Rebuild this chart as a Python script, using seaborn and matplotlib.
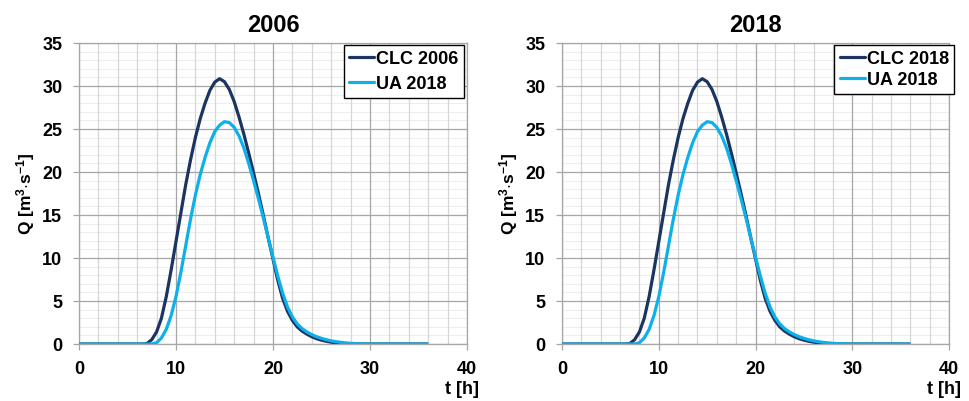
import numpy as np
import pandas as pd
import matplotlib
matplotlib.use("Agg")
import matplotlib.pyplot as plt
from matplotlib.ticker import MultipleLocator
import seaborn as sns

# ---- data, half-hour steps 0 .. 36 h ----
t_hours = [0.0, 0.5, 1.0, 1.5, 2.0, 2.5, 3.0, 3.5, 4.0, 4.5, 5.0, 5.5, 6.0, 6.5,
           7.0, 7.5, 8.0, 8.5, 9.0, 9.5, 10.0, 10.5, 11.0, 11.5, 12.0, 12.5,
           13.0, 13.5, 14.0, 14.5, 15.0, 15.5, 16.0, 16.5, 17.0, 17.5, 18.0,
           18.5, 19.0, 19.5, 20.0, 20.5, 21.0, 21.5, 22.0, 22.5, 23.0, 23.5,
           24.0, 24.5, 25.0, 25.5, 26.0, 26.5, 27.0, 27.5, 28.0, 28.5, 29.0,
           29.5, 30.0, 30.5, 31.0, 31.5, 32.0, 32.5, 33.0, 33.5, 34.0, 34.5,
           35.0, 35.5, 36.0]
q_clc = [0, 0, 0, 0, 0, 0, 0, 0, 0, 0, 0, 0, 0, 0,
         0.05, 0.5, 1.4, 3.0, 5.5, 8.6, 11.9, 15.2, 18.5, 21.4, 24.0, 26.2,
         28.0, 29.5, 30.45, 30.85, 30.5, 29.6, 28.2, 26.4, 24.4, 22.2, 19.9,
         17.5, 15.0, 12.4, 9.9, 7.4, 5.3, 3.8, 2.75, 2.0, 1.5, 1.15,
         0.85, 0.62, 0.45, 0.32, 0.22, 0.14, 0.08, 0.04, 0.02, 0.01, 0,
         0, 0, 0, 0, 0, 0, 0, 0, 0, 0, 0,
         0, 0, 0]
q_ua = [0, 0, 0, 0, 0, 0, 0, 0, 0, 0, 0, 0, 0, 0,
        0.0, 0.0, 0.15, 0.7, 1.7, 3.3, 5.5, 8.3, 11.4, 14.5, 17.3, 19.7,
        21.7, 23.4, 24.7, 25.45, 25.85, 25.75, 25.2, 24.2, 22.8, 21.0, 19.0,
        16.9, 14.7, 12.4, 10.1, 7.9, 5.9, 4.3, 3.15, 2.35, 1.8, 1.4,
        1.1, 0.85, 0.66, 0.5, 0.37, 0.27, 0.19, 0.13, 0.08, 0.05, 0.02,
        0.01, 0, 0, 0, 0, 0, 0, 0, 0, 0, 0,
        0, 0, 0]

panel_titles = ["2006", "2018"]
series_names = [["CLC 2006", "UA 2018"], ["CLC 2018", "UA 2018"]]
x_ticks = [0, 10, 20, 30, 40]
y_ticks = [0, 5, 10, 15, 20, 25, 30, 35]

# ---- style ----
sns.set_theme(style="white")
plt.rcParams["font.family"] = ["Liberation Sans", "DejaVu Sans"]
plt.rcParams["font.weight"] = "bold"
plt.rcParams["text.color"] = "black"
plt.rcParams["axes.labelcolor"] = "black"
plt.rcParams["xtick.labelcolor"] = "black"
plt.rcParams["ytick.labelcolor"] = "black"
plt.rcParams["mathtext.fontset"] = "custom"
plt.rcParams["mathtext.rm"] = "Liberation Sans:bold"
plt.rcParams["mathtext.bf"] = "Liberation Sans:bold"
plt.rcParams["mathtext.it"] = "Liberation Sans:bold"
plt.rcParams["mathtext.default"] = "bf"

dark = "#1b3560"
light = "#0db0ea"
grid_major = "#a6a6a6"
grid_minor_x = "#d6d6d6"
grid_minor_y = "#eeeeee"

fig = plt.figure(figsize=(9.70, 4.01), dpi=100)
ax_rects = [[0.0814, 0.1421, 0.400, 0.7506],
            [0.5794, 0.1421, 0.399, 0.7506]]
legend_anchor = [(0.992, 0.993), (1.014, 0.993)]
legend_spacing = [0.45, 0.22]
fs = 13

for i in range(2):
    ax = fig.add_axes(ax_rects[i])
    df = pd.DataFrame({"t": t_hours * 2,
                       "Q": q_clc + q_ua,
                       "series": [series_names[i][0]] * len(t_hours) + [series_names[i][1]] * len(t_hours)})
    sns.lineplot(data=df, x="t", y="Q", hue="series", palette=[dark, light],
                 linewidth=2.3, ax=ax, legend=False, zorder=3,
                 solid_joinstyle="round", solid_capstyle="butt")
    ax.set_xlim(0, 40)
    ax.set_ylim(0, 35)
    ax.set_xticks(x_ticks)
    ax.set_yticks(y_ticks)
    ax.xaxis.set_minor_locator(MultipleLocator(2))
    ax.set_axisbelow(True)
    # faint horizontal minor lines, below the axis grid
    for yv in range(0, 35):
        if yv % 5:
            ax.axhline(yv, color=grid_minor_y, linewidth=0.8, zorder=0.1)
    ax.grid(which="major", axis="both", color=grid_major, linewidth=0.9)
    ax.grid(which="minor", axis="x", color=grid_minor_x, linewidth=0.9)
    ax.xaxis.set_zorder(0.4)
    ax.yaxis.set_zorder(0.45)
    for s in ax.spines.values():
        s.set_color(grid_major)
        s.set_linewidth(0.9)
    ax.tick_params(axis="both", which="major", labelsize=fs, length=4,
                   color=grid_major, labelcolor="black", width=0.9,
                   direction="out", bottom=True, left=True)
    ax.tick_params(axis="x", which="major", pad=8)
    ax.tick_params(axis="y", which="major", pad=8)
    ax.tick_params(axis="both", which="minor", length=0)
    for lab in ax.get_xticklabels() + ax.get_yticklabels():
        lab.set_fontweight("bold")
    ax.set_title(panel_titles[i], fontsize=17, fontweight="bold", pad=8, color="black")
    ax.set_xlabel("")
    ax.set_ylabel(r"Q [m$^{3}$$\cdot$s$^{-1}$]", fontsize=12.5, fontweight="bold",
                  labelpad=4, color="black")
    ax.text(1.03, -0.122, "t [h]", transform=ax.transAxes, ha="right", va="top",
            fontsize=fs, fontweight="bold", color="black")
    handles = [plt.Line2D([], [], color=dark, linewidth=2.3),
               plt.Line2D([], [], color=light, linewidth=2.3)]
    leg = ax.legend(handles, series_names[i], loc="upper right",
                    bbox_to_anchor=legend_anchor[i], borderaxespad=0,
                    frameon=True, fancybox=False, edgecolor="black",
                    framealpha=1, handlelength=1.4, handletextpad=0.1,
                    borderpad=0.3, labelspacing=legend_spacing[i],
                    prop={"size": fs, "weight": "bold"})
    leg.get_frame().set_linewidth(1.0)
    for txt in leg.get_texts():
        txt.set_color("black")
    leg.set_zorder(5)

fig.savefig("out.png", dpi=100)
